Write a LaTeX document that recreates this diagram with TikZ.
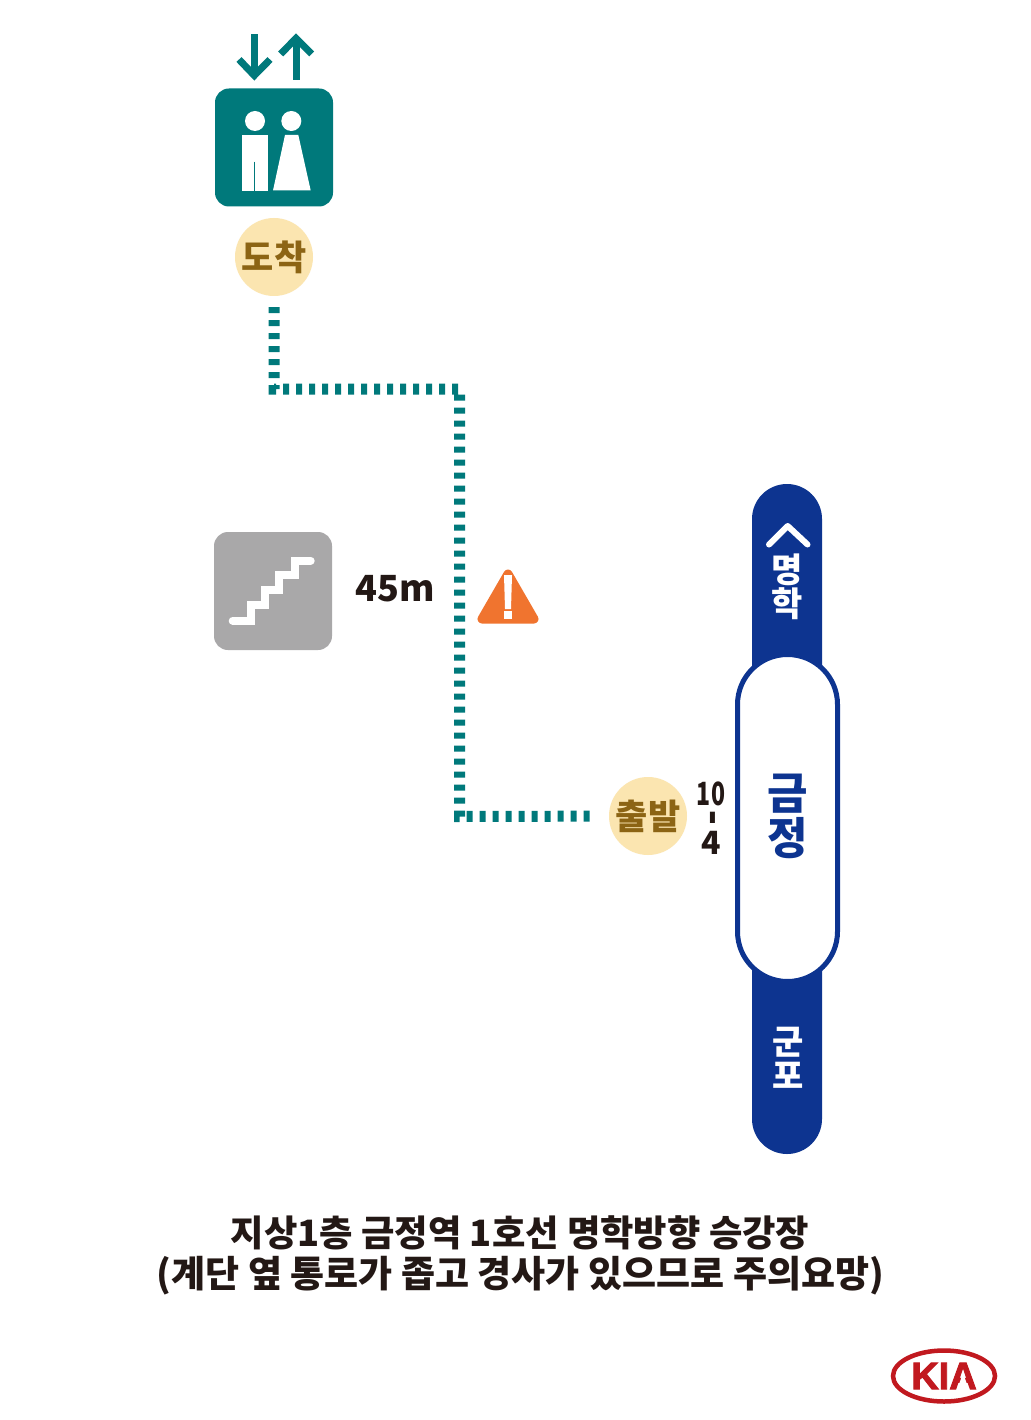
\documentclass[tikz,border=0pt]{standalone}
\usepackage{fontspec}
\usetikzlibrary{shapes.geometric}
\setmainfont{Noto Sans CJK KR}
\newfontfamily\logofont[BoldFeatures={FakeBold=2.5}]{Liberation Sans}
\definecolor{liftteal}{HTML}{00797B}
\definecolor{linenavy}{HTML}{0D3490}
\definecolor{badgeyellow}{HTML}{FBE5B0}
\definecolor{badgebrown}{HTML}{8C6414}
\definecolor{stairgray}{HTML}{A9A8A9}
\definecolor{warnorange}{HTML}{F0742F}
\definecolor{inkblack}{HTML}{231815}
\definecolor{kiared}{HTML}{C1191F}
\newcommand{\sizebold}[1]{\fontsize{#1}{#1}\selectfont\bfseries}
\tikzset{
    iconbox/.style={minimum size=118pt,inner sep=0pt,rounded corners=14pt},
    badge/.style={circle,fill=badgeyellow,minimum size=78pt,inner sep=0pt,text=badgebrown,font=\sizebold{35}},
    walkline/.style={draw=liftteal,line width=11pt,dash pattern=on 6pt off 7pt},
    liftarrow/.style={draw=liftteal,line width=7pt,miter limit=10},
    tracklabel/.style={inner sep=0pt,text=white,align=center,font=\sizebold{34}},
    inklabel/.style={inner sep=0pt,text=inkblack}
}
\begin{document}
\begin{tikzpicture}[x=1pt,y=-1pt]
    \useasboundingbox (0,0) rectangle (1030,1420);
    \fill[white] (0,0) rectangle (1030,1420);
    % lift
    \draw[liftarrow] (254.3,34.3) -- (254.3,76);
    \draw[liftarrow] (239,59.5) -- (254.3,75.5) -- (270,59.5);
    \draw[liftarrow] (296,80) -- (296,40);
    \draw[liftarrow] (280.7,54) -- (296,38.3) -- (311.7,54);
    \node[iconbox,fill=liftteal] (lift) at (274,147.5) {};
    \fill[white] (255,121) circle (10);
    \fill[white] (291.3,121) circle (10);
    \fill[white] (242.3,135) rectangle (268,191);
    \draw[liftteal,line width=1pt] (254.5,161.7) -- (254.5,191);
    \fill[white] (285,135) -- (298.3,135) -- (310.7,190.5) -- (273,190.5) -- cycle;
    % route
    \node[badge] (arrive) at (274,257) {도착};
    \node[badge] (depart) at (648,816) {출발};
    \coordinate (bendA) at (274,389);
    \coordinate (bendB) at (459.5,389);
    \coordinate (bendC) at (459.5,816.5);
    \draw[walkline,shorten <=11pt,shorten >=18pt] (arrive) -- (bendA) -- (bendB) -- (bendC) -- (depart);
    % stairs
    \node[iconbox,fill=stairgray] (stairs) at (273,591) {};
    \draw[white,line width=8pt,line cap=round] (232.7,620.7) -- (250.7,620.7) -- (250.7,605.3) -- (265,605.3) -- (265,590)
        -- (279.3,590) -- (279.3,575.3) -- (295,575.3) -- (295,560.7) -- (310.7,560.7);
    \node[inklabel,font=\sizebold{36}] (dist) at (395,589) {45m};
    % warning
    \filldraw[warnorange,line width=9pt,line join=round] (508,574) -- (534,619) -- (482,619) -- cycle;
    \fill[white] (504,575) -- (512,575) -- (511,609) -- (505,609) -- cycle;
    \fill[white] (504.3,611) rectangle (511.7,618.7);
    % line
    \node[fill=linenavy,minimum width=70pt,minimum height=670pt,inner sep=0pt,rounded corners=35pt] (track) at (787,819) {};
    \node[draw=linenavy,fill=white,line width=5pt,minimum width=100pt,minimum height=327pt,inner sep=0pt,rounded corners=50pt] (station) at (787.5,818) {};
    \node[inner sep=0pt,text=linenavy,align=center,font=\sizebold{44}] (stationname) at (787.5,816) {금\\[1pt]정};
    \draw[white,line width=6pt,line cap=round,line join=round] (769,544.5) -- (787.7,526) -- (807.5,544.5);
    \node[tracklabel] (north) at (787,587) {명\\학};
    \node[tracklabel] (south) at (788,1058) {군\\포};
    % platform
    \node[inklabel,font=\sizebold{32}] (gateA) at (711,794) {\scalebox{.72}[1]{10}};
    \node[inklabel,font=\sizebold{40},rotate=90] (gateB) at (717,818) {-};
    \node[inklabel,font=\sizebold{32}] (gateC) at (711,843) {4};
    % caption
    \node[inklabel,font=\sizebold{36.3}] (lineA) at (520,1233) {지상1층 금정역 1호선 명학방향 승강장};
    \node[inklabel,font=\sizebold{37}] (lineB) at (520.5,1276) {(계단 옆 통로가 좁고 경사가 있으므로 주의요망)};
    % logo
    \node[ellipse,draw=kiared,line width=4.5pt,minimum width=102pt,minimum height=51pt,inner sep=0pt,text=kiared,
        font=\logofont\sizebold{38}] (kia) at (944,1376) {KIA};
    \fill[white] (963,1373) -- (968,1387) -- (958,1387) -- cycle;
\end{tikzpicture}
\end{document}
